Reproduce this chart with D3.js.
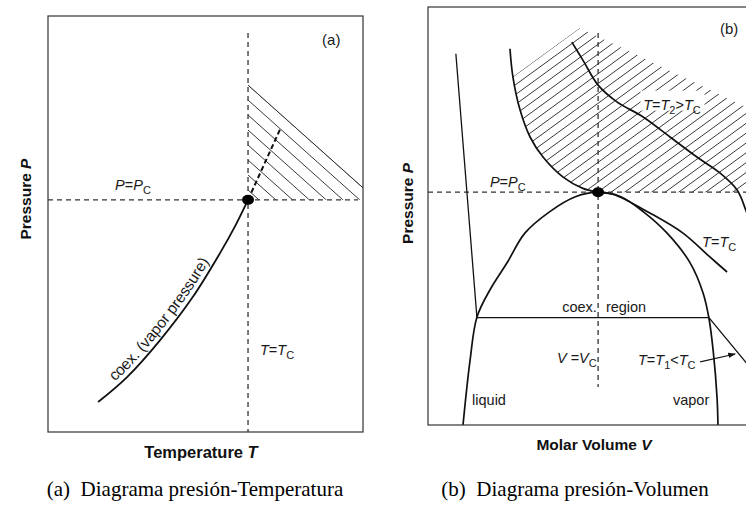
<!DOCTYPE html>
<html lang="es">
<head>
<meta charset="utf-8">
<title>Diagramas de fase</title>
<script src="https://d3js.org/d3.v7.min.js"></script>
<style>
html,body {margin:0; padding:0; background:#fff;}
svg {display:block;}
.lbl {font-family:"Liberation Sans", Arial, sans-serif; font-size:14.5px; fill:#1a1a1a;}
.axis {font-family:"Liberation Sans", Arial, sans-serif; font-size:15.5px; font-weight:bold; fill:#111;}
.cap {font-family:"Liberation Serif", "Times New Roman", serif; font-size:21px; fill:#000;}
</style>
</head>
<body>
<script>
// (a) pressure-temperature plane, both axes in arbitrary units 0..100
var tcA = 63.5, pcA = 55.8
var coexPT = [[15.9,7.2],[25.1,13.2],[35.6,22.1],[46.0,32.5],[54.6,43.0],[59.4,49.5],[63.5,55.8]]
var coexBeyond = [[63.5,55.8],[74.0,73.3]]
var hatchEdgeA = [[63.5,83.4],[100,58.7]]

// (b) pressure-volume plane
var vcB = 52.5, pcB = 55.7
var dome = [[10.8,0],[13.0,15.6],[15.1,25.8],[19.1,32.3],[24.4,38.8],[29.9,45.9],[37.5,51.0],[45.5,54.6],[52.5,55.7],
            [59.5,54.6],[66.5,51.0],[73.8,45.9],[80.9,38.8],[84.9,31.6],[86.7,25.6],[88.0,17.9],[89.2,6.7],[89.5,0]]
var isoTc = [[25.3,90.0],[26.2,83.3],[28.4,75.4],[31.5,68.9],[35.5,64.1],[41.7,59.3],[47.8,56.6],[52.5,55.7],
             [57.1,55.2],[68.5,50.7],[78.7,45.9],[87.0,40.2],[92.3,36.6]]
var isoT2 = [[44.4,91.6],[47.8,87.3],[52.5,81.3],[58.3,77.3],[66.4,73.7],[74.7,68.9],[83.0,64.1],[90.1,60.3],
             [95.4,56.2],[98.1,51.4],[100,47.1]]
var isoT1 = [[8.6,88.8],[15.1,25.7],[86.7,25.7],[100,13.2]]
var arrowT1 = [[84.0,15.1],[94.8,17.0]]
var hatchCapB = [[46.9,95.0],[100,75.4]]

var W = 746, H = 506
var svg = d3.select('body').append('svg').attr('width', W).attr('height', H)
svg.append('rect').attr('width', W).attr('height', H).attr('fill', '#fff')

var defs = svg.append('defs')
defs.append('marker').attr('id', 'arr').attr('viewBox', '0 0 10 10')
    .attr('refX', 9).attr('refY', 5).attr('markerWidth', 7).attr('markerHeight', 7)
    .attr('orient', 'auto')
  .append('path').attr('d', 'M0,1.5L10,5L0,8.5Z').attr('fill', '#111')

var INK = '#111', DASH = '5,4'

function mathText(g, x, y, parts, cls) {
  var t = g.append('text').attr('class', cls || 'lbl').attr('x', x).attr('y', y)
  var low = false
  parts.forEach(function(p) {
    var s = t.append('tspan').text(p[0])
    if (p[1].indexOf('i') >= 0) s.attr('font-style', 'italic')
    if (p[1].indexOf('s') >= 0) {
      s.attr('font-size', '11px')
      if (!low) s.attr('dy', 4)
      low = true
    } else if (low) {
      s.attr('dy', -4)
      low = false
    }
  })
  return t
}

function hatchLines(g, clipId, p0, u, step, n, len) {
  var lines = d3.range(n).map(function(k) {
    var bx = p0[0] + k*step[0], by = p0[1] + k*step[1]
    return [bx - u[0]*len, by - u[1]*len, bx + u[0]*len, by + u[1]*len]
  })
  g.append('g').attr('clip-path', 'url(#' + clipId + ')')
    .selectAll('line').data(lines).join('line')
      .attr('x1', function(d){return d[0]}).attr('y1', function(d){return d[1]})
      .attr('x2', function(d){return d[2]}).attr('y2', function(d){return d[3]})
      .attr('stroke', '#222').attr('stroke-width', 0.9)
}

function unit(a, b) {
  var dx = b[0]-a[0], dy = b[1]-a[1], l = Math.sqrt(dx*dx + dy*dy)
  return [dx/l, dy/l]
}

// ---------- panel (a) ----------
var xA = d3.scaleLinear().domain([0, 100]).range([48, 363])
var yA = d3.scaleLinear().domain([0, 100]).range([432, 16])
var lineA = d3.line().x(function(d){return xA(d[0])}).y(function(d){return yA(d[1])})
var gA = svg.append('g')

var polyA = [hatchEdgeA[0], hatchEdgeA[1], [100, pcA], [tcA, pcA]]
defs.append('clipPath').attr('id', 'hatchA').append('path').attr('d', lineA(polyA) + 'Z')
var eA0 = [xA(hatchEdgeA[0][0]), yA(hatchEdgeA[0][1])], eA1 = [xA(hatchEdgeA[1][0]), yA(hatchEdgeA[1][1])]
hatchLines(gA, 'hatchA', eA0, unit(eA0, eA1), [0, 15], 9, 200)
gA.append('path').attr('d', lineA(hatchEdgeA)).attr('stroke', '#222').attr('stroke-width', 0.9)

gA.append('path').attr('d', lineA([[tcA, 95.9], [tcA, 0]]))
  .attr('stroke', '#333').attr('stroke-width', 1.3).attr('stroke-dasharray', DASH)
gA.append('path').attr('d', lineA([[0, pcA], [98.4, pcA]]))
  .attr('stroke', '#333').attr('stroke-width', 1.3).attr('stroke-dasharray', DASH)

var coexLine = d3.line().curve(d3.curveCatmullRom.alpha(0.5))
  .x(function(d){return xA(d[0])}).y(function(d){return yA(d[1])})
gA.append('path').attr('id', 'coexPath').attr('d', coexLine(coexPT))
  .attr('fill', 'none').attr('stroke', INK).attr('stroke-width', 1.8)
gA.append('path').attr('d', lineA(coexBeyond))
  .attr('stroke', INK).attr('stroke-width', 2).attr('stroke-dasharray', '5,3')
gA.append('ellipse').attr('cx', xA(tcA)).attr('cy', yA(pcA)).attr('rx', 6).attr('ry', 5).attr('fill', '#000')

gA.append('text').attr('class', 'lbl').attr('dy', -5).style('font-size', '15.5px')
  .append('textPath').attr('href', '#coexPath').attr('startOffset', 26)
  .text('coex. (vapor pressure)')

mathText(gA, xA(21.3), yA(58.2), [['P','i'],['=',''],['P','i'],['C','s']])
mathText(gA, xA(67.3), yA(18.5), [['T','i'],['=',''],['T','i'],['C','s']])
gA.append('text').attr('class', 'lbl').attr('x', xA(87)).attr('y', yA(93)).style('font-size', '15px').text('(a)')

gA.append('rect').attr('x', xA(0)).attr('y', yA(100)).attr('width', xA(100)-xA(0)).attr('height', yA(0)-yA(100))
  .attr('fill', 'none').attr('stroke', '#333').attr('stroke-width', 1.2)

mathText(gA, 0, 0, [['Pressure ',''],['P','i']], 'axis')
  .attr('x', null).attr('y', null).attr('text-anchor', 'middle')
  .attr('transform', 'translate(31,' + yA(56) + ') rotate(-90)')
mathText(gA, 201, 458, [['Temperature ',''],['T','i']], 'axis')
  .attr('text-anchor', 'middle').style('font-size', '16.5px')

// ---------- panel (b) ----------
var xB = d3.scaleLinear().domain([0, 100]).range([428, 752])
var yB = d3.scaleLinear().domain([0, 100]).range([425, 7])
var lineB = d3.line().x(function(d){return xB(d[0])}).y(function(d){return yB(d[1])})
var curveB = d3.line().curve(d3.curveCatmullRom.alpha(0.5))
  .x(function(d){return xB(d[0])}).y(function(d){return yB(d[1])})
var gB = svg.append('g')
defs.append('clipPath').attr('id', 'plotB').append('rect')
  .attr('x', xB(0)).attr('y', yB(100)).attr('width', xB(100)-xB(0)).attr('height', yB(0)-yB(100))
var inB = gB.append('g').attr('clip-path', 'url(#plotB)')

// supercritical region above P = Pc, right of the critical isotherm
var tcUpper = isoTc.slice(1, 8)
var polyB = lineB([hatchCapB[0]]) + curveB(tcUpper).replace(/^M/, 'L') +
  lineB([[100, pcB], hatchCapB[1]]).replace(/^M/, 'L') + 'Z'
defs.append('clipPath').attr('id', 'hatchB').append('path').attr('d', polyB)
var cB0 = [xB(hatchCapB[0][0]), yB(hatchCapB[0][1])], cB1 = [xB(tcUpper[0][0]), yB(tcUpper[0][1])]
hatchLines(inB, 'hatchB', cB0, unit(cB1, cB0), [13.5, 0], 34, 320)

inB.append('rect').attr('x', xB(65.6)).attr('y', yB(80)).attr('width', 64).attr('height', 20).attr('fill', '#fff')

inB.append('path').attr('d', lineB([[vcB, 93.8], [vcB, 9.1]]))
  .attr('stroke', '#333').attr('stroke-width', 1.3).attr('stroke-dasharray', DASH)
inB.append('path').attr('d', lineB([[0, pcB], [100, pcB]]))
  .attr('stroke', '#333').attr('stroke-width', 1.3).attr('stroke-dasharray', DASH)

inB.append('path').attr('d', curveB(dome)).attr('fill', 'none').attr('stroke', INK).attr('stroke-width', 1.7)
inB.append('path').attr('d', curveB(isoTc)).attr('fill', 'none').attr('stroke', INK).attr('stroke-width', 1.7)
inB.append('path').attr('d', curveB(isoT2)).attr('fill', 'none').attr('stroke', INK).attr('stroke-width', 1.7)
inB.append('path').attr('d', lineB(isoT1)).attr('fill', 'none').attr('stroke', INK).attr('stroke-width', 1.3)
inB.append('path').attr('d', lineB(arrowT1)).attr('fill', 'none').attr('stroke', INK).attr('stroke-width', 1.1)
  .attr('marker-end', 'url(#arr)')
inB.append('ellipse').attr('cx', xB(vcB)).attr('cy', yB(pcB)).attr('rx', 6).attr('ry', 5).attr('fill', '#000')

gB.append('text').attr('class', 'lbl').attr('x', xB(90.1)).attr('y', yB(93.5)).style('font-size', '15px').text('(b)')
mathText(gB, xB(19.1), yB(56.9), [['P','i'],['=',''],['P','i'],['C','s']])
mathText(gB, xB(66.4), yB(75.4), [['T','i'],['=',''],['T','i'],['2','s'],['>',''],['T','i'],['C','s']])
mathText(gB, xB(84.6), yB(42.6), [['T','i'],['=',''],['T','i'],['C','s']])
gB.append('text').attr('class', 'lbl').attr('x', xB(41.4)).attr('y', yB(27.0)).text('coex.')
gB.append('text').attr('class', 'lbl').attr('x', xB(54.9)).attr('y', yB(27.0)).text('region')
mathText(gB, xB(39.8), yB(14.8), [['V','i'],[' =',''],['V','i'],['C','s']])
mathText(gB, xB(64.8), yB(14.4), [['T','i'],['=',''],['T','i'],['1','s'],['<',''],['T','i'],['C','s']])
gB.append('text').attr('class', 'lbl').attr('x', xB(13.6)).attr('y', yB(4.8)).text('liquid')
gB.append('text').attr('class', 'lbl').attr('x', xB(75.6)).attr('y', yB(4.8)).text('vapor')

gB.append('rect').attr('x', xB(0)).attr('y', yB(100)).attr('width', xB(100)-xB(0)).attr('height', yB(0)-yB(100))
  .attr('fill', 'none').attr('stroke', '#333').attr('stroke-width', 1.2)

mathText(gB, 0, 0, [['Pressure ',''],['P','i']], 'axis')
  .attr('x', null).attr('y', null).attr('text-anchor', 'middle')
  .attr('transform', 'translate(413,' + yB(53) + ') rotate(-90)')
mathText(gB, 594, 450, [['Molar Volume ',''],['V','i']], 'axis').attr('text-anchor', 'middle')

// captions
svg.append('text').attr('class', 'cap').attr('x', 195).attr('y', 496).attr('text-anchor', 'middle')
  .text('(a)\u2002Diagrama presión-Temperatura')
svg.append('text').attr('class', 'cap').attr('x', 575).attr('y', 496).attr('text-anchor', 'middle')
  .text('(b)\u2002Diagrama presión-Volumen')
</script>
</body>
</html>
